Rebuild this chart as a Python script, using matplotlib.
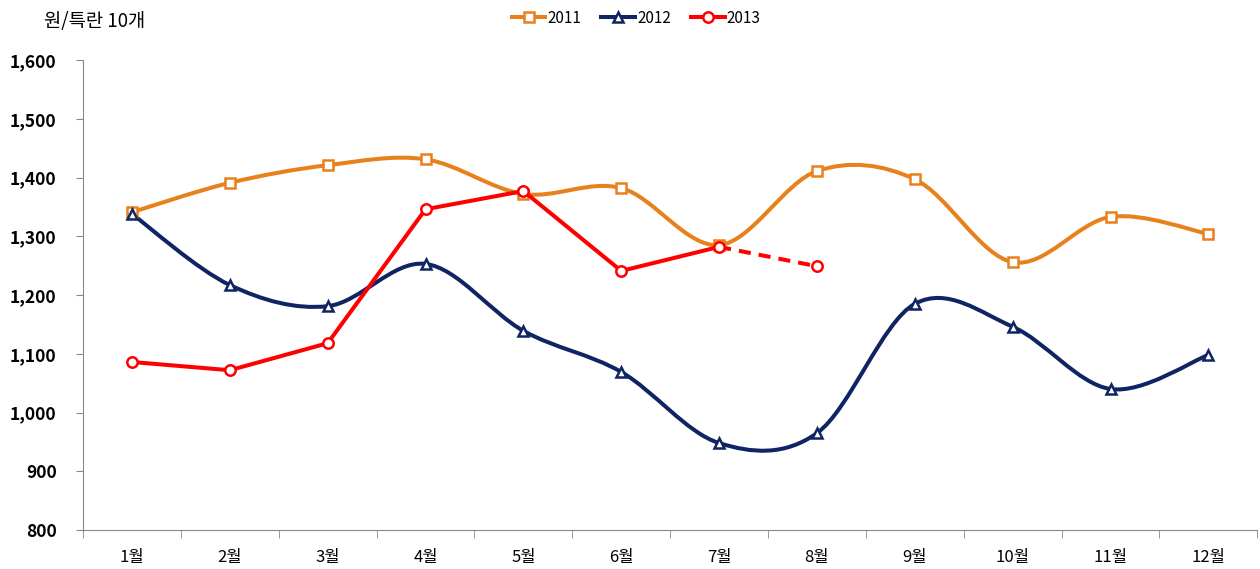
import matplotlib
matplotlib.use('Agg')
import matplotlib.pyplot as plt
import numpy as np
from matplotlib.path import Path
from matplotlib.patches import PathPatch
from matplotlib.lines import Line2D
from matplotlib.ticker import FuncFormatter

plt.rcParams['font.family'] = ['Noto Sans CJK KR', 'DejaVu Sans']

# 데이터 (원/특란 10개)
months = ['1월', '2월', '3월', '4월', '5월', '6월', '7월', '8월', '9월', '10월', '11월', '12월']
y2011 = [1341, 1391, 1421, 1431, 1372, 1382, 1285, 1411, 1397, 1256, 1333, 1304]
y2012 = [1338, 1217, 1181, 1253, 1139, 1069, 948, 965, 1185, 1146, 1040, 1098]
y2013 = [1086, 1072, 1118, 1346, 1377, 1241, 1282, 1249]

c2011 = '#E8801C'
c2012 = '#0F2463'
c2013 = '#FF0000'
lw = 2.9


def smooth_path(xs, ys):
    # 엑셀식 부드러운 선: 점들을 잇는 베지어 곡선
    xs = np.asarray(xs, float)
    ys = np.asarray(ys, float)
    n = len(xs)
    verts = [(xs[0], ys[0])]
    codes = [Path.MOVETO]
    for i in range(n - 1):
        i0 = max(i - 1, 0)
        i3 = min(i + 2, n - 1)
        c1 = (xs[i] + (xs[i + 1] - xs[i0]) / 6, ys[i] + (ys[i + 1] - ys[i0]) / 6)
        c2 = (xs[i + 1] - (xs[i3] - xs[i]) / 6, ys[i + 1] - (ys[i3] - ys[i]) / 6)
        verts += [c1, c2, (xs[i + 1], ys[i + 1])]
        codes += [Path.CURVE4] * 3
    return Path(verts, codes)


fig = plt.figure(figsize=(12.6, 5.69), dpi=100)
ax = fig.add_axes([0.0659, 0.0685, 0.932, 0.826])

x = np.arange(len(months))
for vals, col, mk in [(y2011, c2011, 's'), (y2012, c2012, '^')]:
    ax.add_patch(PathPatch(smooth_path(x, vals), fill=False, edgecolor=col, lw=lw, zorder=2))
    ax.plot(x, vals, ls='none', marker=mk, ms=7.5, mfc='white', mec=col, mew=1.8, zorder=3)

x13 = np.arange(len(y2013))
ax.plot(x13[:7], y2013[:7], color=c2013, lw=lw, zorder=4)
ax.plot(x13[6:], y2013[6:], color=c2013, lw=lw, ls=(0, (3, 2)), zorder=4)
ax.plot(x13, y2013, ls='none', marker='o', ms=7.5, mfc='white', mec=c2013, mew=1.8, zorder=5)

ax.set_xlim(-0.5, len(months) - 0.5)
ax.set_ylim(800, 1600)
ax.set_yticks(range(800, 1601, 100))
ax.yaxis.set_major_formatter(FuncFormatter(lambda v, p: f'{int(v):,}'))
ax.set_xticks(x)
ax.set_xticklabels(months, fontsize=12)
ax.set_xticks(np.arange(-0.5, len(months), 1), minor=True)
ax.tick_params(axis='x', which='major', length=0, pad=14)
ax.tick_params(axis='x', which='minor', length=6, color='#888888')
ax.tick_params(axis='y', length=5, color='#888888', pad=14)
for lab in ax.get_yticklabels():
    lab.set_fontweight('bold')
    lab.set_fontsize(12.5)

for s in ['top', 'right']:
    ax.spines[s].set_visible(False)
for s in ['left', 'bottom']:
    ax.spines[s].set_color('#888888')

fig.text(0.035, 0.962, '원/특란 10개', fontsize=13.5, va='center', ha='left')

handles = [
    Line2D([], [], color=c2011, lw=lw, marker='s', ms=7.5, mfc='white', mec=c2011, mew=1.8),
    Line2D([], [], color=c2012, lw=lw, marker='^', ms=7.5, mfc='white', mec=c2012, mew=1.8),
    Line2D([], [], color=c2013, lw=lw, marker='o', ms=7.5, mfc='white', mec=c2013, mew=1.8),
]
fig.legend(handles, ['2011', '2012', '2013'], loc='center', bbox_to_anchor=(0.505, 0.968),
           ncol=3, frameon=False, fontsize=11, handlelength=2.2, handletextpad=0.15,
           columnspacing=1.3)

fig.savefig('out.png', dpi=100)
